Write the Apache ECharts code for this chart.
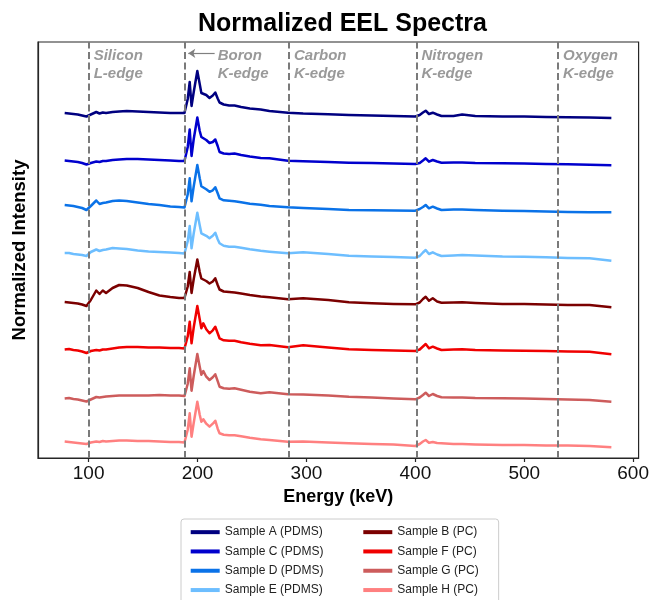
<!DOCTYPE html>
<html>
<head>
<meta charset="utf-8">
<script src="https://cdn.jsdelivr.net/npm/echarts@6/dist/echarts.min.js"></script>
<style>html,body{margin:0;padding:0;background:#fff}#chart{width:652px;height:600px}</style>
</head>
<body>
<div id="chart"></div>
<script>
// Energy grid (keV as labelled on the axis)
const energyKeV = [
  78, 82, 86, 90, 94, 98, 102, 107, 110, 113, 116, 122, 128, 135, 145, 155, 165, 175, 183, 188,
  189.5, 191, 192.8, 194.5, 196.5, 199.8, 202, 203.5, 205.3, 208, 211, 214, 216.3, 218.5, 220.2, 224, 229, 234, 240, 248, 258,
  266, 283, 297, 320, 339, 360, 380, 400, 404, 407, 409.5, 412.5, 416, 420, 424, 435, 443, 455, 480, 500, 520, 540, 560, 580
];
// Offset normalized intensities
const sampleA = [
  3.45, 3.445, 3.44, 3.435, 3.425, 3.415, 3.435, 3.46, 3.445, 3.455, 3.45, 3.46, 3.465, 3.47, 3.465, 3.46, 3.455, 3.45, 3.45, 3.45,
  3.455, 3.59, 3.76, 3.52, 3.66, 3.87, 3.74, 3.65, 3.67, 3.63, 3.60, 3.625, 3.655, 3.595, 3.555, 3.535, 3.525, 3.525, 3.51, 3.495, 3.485,
  3.47, 3.453, 3.445, 3.438, 3.43, 3.425, 3.42, 3.415, 3.43, 3.455, 3.473, 3.44, 3.453, 3.435, 3.42, 3.42, 3.435, 3.42, 3.415, 3.415, 3.41, 3.407, 3.405, 3.40
];
const sampleC = [
  2.975, 2.97, 2.965, 2.96, 2.95, 2.935, 2.95, 2.965, 2.96, 2.97, 2.97, 2.98, 2.985, 2.99, 2.99, 2.985, 2.98, 2.975, 2.97, 2.97,
  2.975, 3.11, 3.285, 3.02, 3.19, 3.405, 3.27, 3.21, 3.225, 3.18, 3.15, 3.16, 3.185, 3.12, 3.06, 3.045, 3.04, 3.045, 3.03, 3.015, 3.0,
  2.997, 2.973, 2.967, 2.96, 2.953, 2.95, 2.945, 2.94, 2.95, 2.975, 2.997, 2.963, 2.98, 2.965, 2.953, 2.955, 2.955, 2.95, 2.947, 2.945, 2.94, 2.937, 2.933, 2.927
];
const sampleD = [
  2.53, 2.525, 2.52, 2.51, 2.50, 2.48, 2.52, 2.575, 2.54, 2.55, 2.555, 2.57, 2.575, 2.57, 2.555, 2.54, 2.53, 2.515, 2.51, 2.505,
  2.512, 2.637, 2.797, 2.567, 2.717, 2.93, 2.797, 2.717, 2.73, 2.687, 2.662, 2.677, 2.707, 2.647, 2.597, 2.577, 2.572, 2.567, 2.557, 2.542, 2.532,
  2.52, 2.507, 2.50, 2.49, 2.48, 2.477, 2.475, 2.473, 2.49, 2.51, 2.53, 2.497, 2.513, 2.495, 2.48, 2.485, 2.485, 2.48, 2.473, 2.47, 2.465, 2.46, 2.457, 2.457
];
const sampleE = [
  2.05, 2.05, 2.04, 2.035, 2.03, 2.02, 2.06, 2.085, 2.07, 2.08, 2.085, 2.10, 2.095, 2.09, 2.075, 2.065, 2.06, 2.055, 2.05, 2.045,
  2.052, 2.167, 2.32, 2.097, 2.247, 2.453, 2.327, 2.247, 2.263, 2.222, 2.197, 2.222, 2.253, 2.187, 2.147, 2.122, 2.112, 2.112, 2.102, 2.087, 2.072,
  2.063, 2.047, 2.057, 2.04, 2.023, 2.015, 2.01, 2.003, 2.02, 2.055, 2.08, 2.04, 2.057, 2.035, 2.02, 2.025, 2.03, 2.025, 2.015, 2.013, 2.007, 2.00, 1.997, 1.973
];
const sampleB = [
  1.56, 1.555, 1.55, 1.545, 1.535, 1.52, 1.58, 1.675, 1.64, 1.675, 1.65, 1.70, 1.73, 1.725, 1.70, 1.66, 1.625, 1.61, 1.60, 1.60,
  1.605, 1.715, 1.86, 1.65, 1.79, 1.985, 1.86, 1.795, 1.813, 1.77, 1.745, 1.765, 1.797, 1.73, 1.685, 1.665, 1.66, 1.655, 1.645, 1.63, 1.615,
  1.607, 1.587, 1.597, 1.58, 1.557, 1.547, 1.54, 1.537, 1.555, 1.59, 1.613, 1.573, 1.597, 1.565, 1.553, 1.555, 1.557, 1.55, 1.54, 1.54, 1.535, 1.53, 1.53, 1.507
];
const sampleF = [
  1.085, 1.09, 1.08, 1.075, 1.065, 1.05, 1.07, 1.08, 1.075, 1.085, 1.085, 1.095, 1.105, 1.11, 1.11, 1.105, 1.105, 1.10, 1.10, 1.095,
  1.102, 1.217, 1.363, 1.147, 1.307, 1.52, 1.387, 1.297, 1.347, 1.287, 1.247, 1.277, 1.313, 1.247, 1.197, 1.177, 1.172, 1.173, 1.157, 1.142, 1.127,
  1.13, 1.107, 1.127, 1.105, 1.087, 1.08, 1.075, 1.07, 1.085, 1.115, 1.14, 1.097, 1.113, 1.095, 1.08, 1.085, 1.087, 1.08, 1.075, 1.073, 1.07, 1.065, 1.063, 1.037
];
const sampleG = [
  0.595, 0.60, 0.59, 0.585, 0.575, 0.565, 0.585, 0.61, 0.605, 0.61, 0.615, 0.62, 0.625, 0.625, 0.625, 0.625, 0.63, 0.625, 0.625, 0.62,
  0.62, 0.743, 0.897, 0.673, 0.823, 1.04, 0.913, 0.833, 0.87, 0.813, 0.78, 0.808, 0.837, 0.768, 0.713, 0.698, 0.693, 0.697, 0.683, 0.663, 0.648,
  0.657, 0.637, 0.635, 0.625, 0.613, 0.605, 0.595, 0.587, 0.605, 0.63, 0.653, 0.62, 0.64, 0.62, 0.607, 0.605, 0.605, 0.60, 0.597, 0.595, 0.59, 0.585, 0.58, 0.563
];
const sampleH = [
  0.165, 0.16, 0.155, 0.15, 0.145, 0.14, 0.155, 0.165, 0.16, 0.17, 0.165, 0.17, 0.175, 0.175, 0.17, 0.17, 0.165, 0.16, 0.16, 0.155,
  0.158, 0.283, 0.447, 0.213, 0.353, 0.563, 0.433, 0.363, 0.387, 0.343, 0.313, 0.343, 0.373, 0.293, 0.247, 0.233, 0.228, 0.228, 0.218, 0.203, 0.188,
  0.18, 0.163, 0.165, 0.155, 0.147, 0.14, 0.135, 0.12, 0.14, 0.165, 0.18, 0.153, 0.16, 0.15, 0.147, 0.14, 0.14, 0.135, 0.13, 0.13, 0.125, 0.125, 0.12, 0.107
];
const seriesNames = ['Sample A (PDMS)', 'Sample C (PDMS)', 'Sample D (PDMS)', 'Sample E (PDMS)',
                     'Sample B (PC)', 'Sample F (PC)', 'Sample G (PC)', 'Sample H (PC)'];
const seriesValues = [sampleA, sampleC, sampleD, sampleE, sampleB, sampleF, sampleG, sampleH];
const seriesColors = ['#000080', '#0000CD', '#0A72E8', '#6DBEFF', '#7B0000', '#F00000', '#CD5C5C', '#FF8080'];
// Edge markers
const edgeEnergies = [100, 188, 284, 401, 531];
const edgeNames = ['Silicon\nL-edge', 'Boron\nK-edge', 'Carbon\nK-edge', 'Nitrogen\nK-edge', 'Oxygen\nK-edge'];
const edgeLabelX = [100, 218.5, 284, 401, 531];
const labelLevel = 3.93;
const arrowFrom = [215.7, 4.047];
const arrowTo = [191.5, 4.047];
const xTicks = [100, 200, 300, 400, 500, 600];

const FONT = "'Liberation Sans', Arial, Helvetica, sans-serif";
const chart = echarts.init(document.getElementById('chart'), null, {renderer: 'canvas'});

const lineSeries = seriesNames.map((name, k) => ({
  name: name,
  type: 'line',
  data: energyKeV.map((e, i) => [e, seriesValues[k][i]]),
  showSymbol: false,
  symbol: 'none',
  smooth: false,
  color: seriesColors[k],
  lineStyle: {color: seriesColors[k], width: 2.5, join: 'round'},
  emphasis: {disabled: true},
  z: 3
}));

lineSeries[0].markLine = {
  silent: true,
  symbol: ['none', 'arrow'],
  symbolSize: 7,
  label: {show: false},
  lineStyle: {color: '#808080', width: 1.2, type: 'solid'},
  data: [[{coord: arrowFrom}, {coord: arrowTo}]],
  z: 5
};

const legendOrder = ['Sample A (PDMS)', 'Sample B (PC)', 'Sample C (PDMS)', 'Sample F (PC)',
                     'Sample D (PDMS)', 'Sample G (PC)', 'Sample E (PDMS)', 'Sample H (PC)'];

const option = {
  animation: false,
  backgroundColor: '#ffffff',
  title: {
    text: 'Normalized EEL Spectra',
    left: 193, top: 7,
    textStyle: {fontFamily: FONT, fontWeight: 'bold', fontSize: 25, color: '#000'}
  },
  grid: {left: 38, right: 11, top: 42, bottom: 142, show: true, borderColor: '#262626', borderWidth: 1.2, backgroundColor: 'transparent'},
  xAxis: {
    type: 'value', min: 53.5, max: 605,
    name: 'Energy (keV)', nameLocation: 'middle', nameGap: 29,
    nameTextStyle: {fontFamily: FONT, fontWeight: 'bold', fontSize: 18, color: '#000'},
    axisLine: {show: true, lineStyle: {color: '#262626', width: 1.2}},
    axisTick: {show: true, length: 4, customValues: xTicks, lineStyle: {color: '#262626', width: 1.2}},
    axisLabel: {customValues: xTicks, fontFamily: FONT, fontSize: 19, color: '#111', margin: 6},
    splitLine: {show: false}
  },
  yAxis: {
    type: 'value', min: 0, max: 4.16,
    name: 'Normalized Intensity', nameLocation: 'middle', nameGap: 9,
    nameTextStyle: {fontFamily: FONT, fontWeight: 'bold', fontSize: 18.5, color: '#000'},
    axisLine: {show: true, lineStyle: {color: '#262626', width: 1.2}},
    axisTick: {show: false}, axisLabel: {show: false}, splitLine: {show: false}
  },
  legend: {
    left: 181, top: 519, width: 330,
    orient: 'horizontal',
    padding: [6, 20, 6, 9.7],
    itemWidth: 29, itemHeight: 4, itemGap: 5,
    icon: 'rect',
    selectedMode: false,
    borderColor: '#cccccc', borderWidth: 1, borderRadius: 3, backgroundColor: '#ffffff',
    textStyle: {fontFamily: FONT, fontSize: 12, lineHeight: 14.3, color: '#222'},
    data: legendOrder.map(n => n.indexOf('PDMS') >= 0 ? {name: n, textStyle: {width: 133.6}} : {name: n})
  },
  series: lineSeries.concat([{
    name: 'edges',
    type: 'scatter',
    silent: true,
    symbolSize: 0,
    z: 6,
    data: edgeLabelX.map((x, i) => ({
      value: [x, labelLevel],
      label: {distance: i === 1 ? 0 : 5}
    })),
    label: {
      show: true, position: 'right',
      formatter: p => edgeNames[p.dataIndex],
      fontFamily: FONT, fontSize: 15, fontStyle: 'italic', fontWeight: 'bold',
      color: '#7f7f7f', lineHeight: 18.5, align: 'left', verticalAlign: 'middle'
    },
    markLine: {
      silent: true, symbol: 'none', label: {show: false},
      lineStyle: {color: '#7a7a7a', width: 2, type: [7, 3.5]},
      data: edgeEnergies.map(e => ({xAxis: e})),
      z: 4
    }
  }])
};
chart.setOption(option);
</script>
</body>
</html>
